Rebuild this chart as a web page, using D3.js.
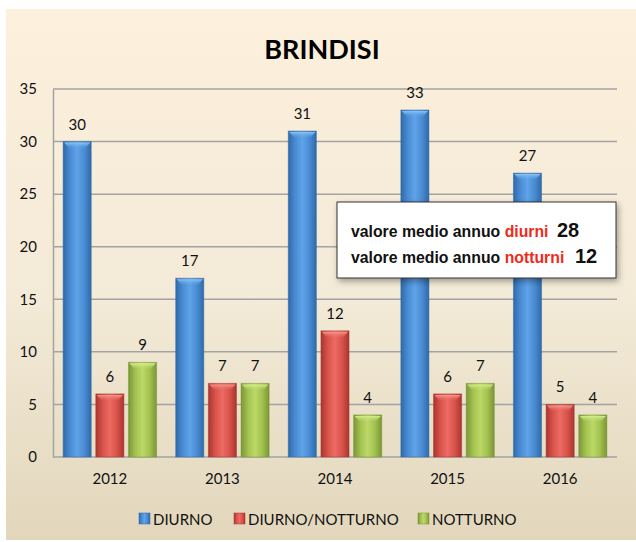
<!DOCTYPE html>
<html>
<head>
<meta charset="utf-8">
<script src="https://cdn.jsdelivr.net/npm/d3@7/dist/d3.min.js"></script>
<style>
  html, body { margin: 0; padding: 0; background: #ffffff; }
  svg { display: block; }
</style>
</head>
<body>
<svg id="chart" width="636" height="542"></svg>
<script>
// Data
const years = ["2012", "2013", "2014", "2015", "2016"];
const seriesNames = ["DIURNO", "DIURNO/NOTTURNO", "NOTTURNO"];
const diurno = [30, 17, 31, 33, 27];
const diurnoNotturno = [6, 7, 12, 6, 5];
const notturno = [9, 7, 4, 7, 4];
const yTicks = [0, 5, 10, 15, 20, 25, 30, 35];
const avgDiurni = 28;
const avgNotturni = 12;

const seriesValues = [diurno, diurnoNotturno, notturno];
const palette = [
  { light: "#5fa3e8", mid: "#4a8cd4", dark: "#2f6aa8", cap: "#8cc4f4" },
  { light: "#ec6b62", mid: "#d9534b", dark: "#a8362f", cap: "#f59a90" },
  { light: "#bcd968", mid: "#a3c24f", dark: "#7a9636", cap: "#d6ee8e" }
];

const svg = d3.select("#chart");
const font = "Lato, 'Open Sans', sans-serif";
const defs = svg.append("defs");

// Panel background gradient
const bg = defs.append("linearGradient").attr("id", "bg").attr("x1", 0).attr("y1", 0).attr("x2", 0).attr("y2", 1);
bg.append("stop").attr("offset", "0%").attr("stop-color", "#fdf0dc");
bg.append("stop").attr("offset", "55%").attr("stop-color", "#f3ead7");
bg.append("stop").attr("offset", "100%").attr("stop-color", "#e2d7bc");

// Bar gradients (horizontal shading) and top highlight
palette.forEach((p, i) => {
  const g = defs.append("linearGradient").attr("id", "bar" + i).attr("x1", 0).attr("y1", 0).attr("x2", 1).attr("y2", 0);
  g.append("stop").attr("offset", "0%").attr("stop-color", p.dark);
  g.append("stop").attr("offset", "25%").attr("stop-color", p.mid);
  g.append("stop").attr("offset", "50%").attr("stop-color", p.light);
  g.append("stop").attr("offset", "75%").attr("stop-color", p.mid);
  g.append("stop").attr("offset", "100%").attr("stop-color", p.dark);
  const c = defs.append("linearGradient").attr("id", "cap" + i).attr("x1", 0).attr("y1", 0).attr("x2", 0).attr("y2", 1);
  c.append("stop").attr("offset", "0%").attr("stop-color", p.cap);
  c.append("stop").attr("offset", "100%").attr("stop-color", p.light).attr("stop-opacity", 0);
});

const shadow = defs.append("filter").attr("id", "shadow").attr("x", "-10%").attr("y", "-10%").attr("width", "130%").attr("height", "140%");
shadow.append("feDropShadow").attr("dx", 2).attr("dy", 3).attr("stdDeviation", 3).attr("flood-color", "#000").attr("flood-opacity", 0.35);

svg.append("rect").attr("x", 6).attr("y", 9).attr("width", 630).attr("height", 531).attr("fill", "url(#bg)");

// Title
svg.append("text").attr("x", 322).attr("y", 59).attr("text-anchor", "middle")
  .attr("font-family", font).attr("font-weight", "bold").attr("font-size", 27).attr("fill", "#000")
  .text("BRINDISI");

// Scales
const plot = { left: 53, right: 617, top: 89, bottom: 457 };
const x0 = d3.scaleBand().domain(years).range([plot.left, plot.right]).paddingInner(0.17).paddingOuter(0.09);
const x1 = d3.scaleBand().domain(d3.range(3)).range([0, x0.bandwidth()]).paddingInner(0.14);
const y = d3.scaleLinear().domain([0, 35]).range([plot.bottom, plot.top]);

// Gridlines
svg.append("g").selectAll("line").data(yTicks).join("line")
  .attr("x1", plot.left).attr("x2", plot.right)
  .attr("y1", d => y(d)).attr("y2", d => y(d))
  .attr("stroke", "#a3a3a3").attr("stroke-width", 1.5);

// Y axis
const yAxis = svg.append("g").attr("transform", `translate(${plot.left},0)`)
  .call(d3.axisLeft(y).tickValues(yTicks).tickSize(0).tickPadding(16));
yAxis.select(".domain").attr("stroke", "#a3a3a3").attr("stroke-width", 1.5);
yAxis.selectAll("text").attr("font-family", font).attr("font-size", 15).attr("fill", "#111");

// X axis
const xAxis = svg.append("g").attr("transform", `translate(0,${plot.bottom})`)
  .call(d3.axisBottom(x0).tickSize(0).tickPadding(16));
xAxis.select(".domain").remove();
xAxis.selectAll("text").attr("font-family", font).attr("font-size", 15).attr("fill", "#111");

// Bars
const groups = svg.append("g").selectAll("g").data(years).join("g")
  .attr("transform", d => `translate(${x0(d)},0)`);

groups.each(function(year, yi) {
  const g = d3.select(this);
  seriesValues.forEach((vals, si) => {
    const v = vals[yi];
    const bx = x1(si), bw = x1.bandwidth();
    g.append("rect").attr("x", bx).attr("y", y(v)).attr("width", bw).attr("height", y(0) - y(v))
      .attr("fill", `url(#bar${si})`).attr("stroke", palette[si].dark).attr("stroke-opacity", 0.5).attr("stroke-width", 1);
    g.append("path")
      .attr("d", `M${bx + 1},${y(v) + 1} L${bx + bw - 1},${y(v) + 1} L${bx + bw - 6},${y(v) + 7} L${bx + 6},${y(v) + 7} Z`)
      .attr("fill", `url(#cap${si})`);
    g.append("text").attr("x", bx + bw / 2).attr("y", y(v) - 12).attr("text-anchor", "middle")
      .attr("font-family", font).attr("font-size", 15).attr("fill", "#111").text(v);
  });
});

// Annotation box
const box = svg.append("g");
box.append("rect").attr("x", 337).attr("y", 202).attr("width", 279).attr("height", 76)
  .attr("fill", "#fff").attr("stroke", "#333").attr("stroke-width", 1).attr("filter", "url(#shadow)");
const bfont = "'Liberation Sans', Arial, sans-serif";
const l1 = box.append("text").attr("x", 351).attr("y", 237).attr("font-family", bfont).attr("font-weight", "bold").attr("font-size", 15.8);
l1.append("tspan").attr("fill", "#111").text("valore medio annuo ");
l1.append("tspan").attr("fill", "#f02a1a").text("diurni");
l1.append("tspan").attr("fill", "#111").attr("font-size", 20).attr("x", 557).text(avgDiurni);
const l2 = box.append("text").attr("x", 351).attr("y", 263).attr("font-family", bfont).attr("font-weight", "bold").attr("font-size", 15.8);
l2.append("tspan").attr("fill", "#111").text("valore medio annuo ");
l2.append("tspan").attr("fill", "#f02a1a").text("notturni");
l2.append("tspan").attr("fill", "#111").attr("font-size", 20).attr("x", 575).text(avgNotturni);

// Legend
const legendX = [139, 234, 418];
const legend = svg.append("g").selectAll("g").data(seriesNames).join("g")
  .attr("transform", (d, i) => `translate(${legendX[i]},513)`);
legend.append("rect").attr("width", 11).attr("height", 11).attr("fill", (d, i) => `url(#bar${i})`)
  .attr("stroke", (d, i) => palette[i].dark).attr("stroke-opacity", 0.5);
legend.append("text").attr("x", 14).attr("y", 11.5).attr("font-family", font).attr("font-size", 15).attr("fill", "#111")
  .text(d => d);
</script>
</body>
</html>
